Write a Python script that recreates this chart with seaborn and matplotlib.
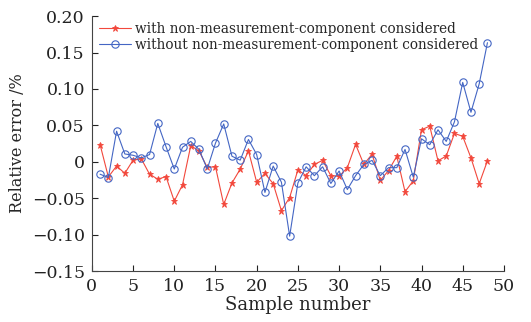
import numpy as np
import pandas as pd
import matplotlib
matplotlib.use("Agg")
import matplotlib.pyplot as plt
import seaborn as sns
from matplotlib.ticker import FixedLocator, FixedFormatter

samples = list(range(1, 49))
with_nmc = [0.0235, -0.0207, -0.0058, -0.0157, 0.0023, 0.0041, -0.017, -0.0238, -0.0203, -0.054,
            -0.0315, 0.0222, 0.0149, -0.0076, -0.0068, -0.0585, -0.029, -0.010, 0.015, -0.028,
            -0.016, -0.030, -0.067, -0.049, -0.011, -0.019, -0.0035, 0.002, -0.019, -0.020,
            -0.008, 0.024, -0.0035, 0.0104, -0.0255, -0.012, 0.0077, -0.041, -0.026, 0.044,
            0.049, 0.0014, 0.008, 0.039, 0.035, 0.0054, -0.030, 0.0014]
without_nmc = [-0.017, -0.0216, 0.042, 0.0108, 0.009, 0.0054, 0.010, 0.0527, 0.0208, -0.0099,
               0.020, 0.028, 0.017, -0.0099, 0.0257, 0.052, 0.0077, 0.0023, 0.0307, 0.010,
               -0.042, -0.0058, -0.028, -0.102, -0.029, -0.0068, -0.019, -0.0068, -0.0297, -0.0126,
               -0.038, -0.019, -0.0035, 0.002, -0.019, -0.008, -0.008, 0.017, -0.021, 0.0316,
               0.0235, 0.044, 0.028, 0.055, 0.109, 0.068, 0.107, 0.1635]
labels = ["with non-measurement-component considered",
          "without non-measurement-component considered"]
xticks = [0, 5, 10, 15, 20, 25, 30, 35, 40, 45, 50]
yticks = [-0.15, -0.10, -0.05, 0, 0.05, 0.10, 0.15, 0.20]
ytick_labels = ["\u22120.15", "\u22120.10", "\u22120.05", "0", "0.05", "0.10", "0.15", "0.20"]

sns.set_theme(style="ticks")
plt.rcParams['font.family'] = ['DejaVu Serif']
plt.rcParams['mathtext.fontset'] = 'dejavuserif'

df = pd.DataFrame({
    "Sample": samples * 2,
    "Error": with_nmc + without_nmc,
    "Series": [labels[0]] * len(samples) + [labels[1]] * len(samples),
})

red = "#f2483c"
blue = "#4466c4"

fig = plt.figure(figsize=(5.31, 3.22), dpi=100)
ax = fig.add_axes([0.173, 0.158, 0.776, 0.792])

sns.lineplot(data=df[df.Series == labels[0]], x="Sample", y="Error", ax=ax,
             color=red, lw=0.8, marker="*", markersize=4.5, markeredgecolor=red,
             markerfacecolor=red, markeredgewidth=0.6, label=labels[0])
sns.lineplot(data=df[df.Series == labels[1]], x="Sample", y="Error", ax=ax,
             color=blue, lw=0.8, marker="o", markersize=5.3, markeredgecolor=blue,
             markerfacecolor="none", markeredgewidth=0.8, label=labels[1])

ax.set_xlim(0, 50)
ax.set_ylim(-0.15, 0.20)
ax.xaxis.set_major_locator(FixedLocator(xticks))
ax.yaxis.set_major_locator(FixedLocator(yticks))
ax.yaxis.set_major_formatter(FixedFormatter(ytick_labels))
ax.tick_params(direction="in", length=4, width=0.8, labelsize=12.5, colors="#222222")
ax.tick_params(axis="x", pad=5)
ax.tick_params(axis="y", pad=5)
for s in ["top", "right"]:
    ax.spines[s].set_visible(False)
for s in ["left", "bottom"]:
    ax.spines[s].set_linewidth(0.8)
    ax.spines[s].set_color("#444444")
ax.set_xlabel("Sample number", fontsize=13, labelpad=1)
ax.set_ylabel("Relative error /%", fontsize=11.5, labelpad=4)

leg = ax.legend(loc="upper left", bbox_to_anchor=(-0.005, 1.015), frameon=False,
                fontsize=9.8, handlelength=2.3, handletextpad=0.35,
                labelspacing=0.15, borderaxespad=0.3)

fig.savefig("out.png", dpi=100)
